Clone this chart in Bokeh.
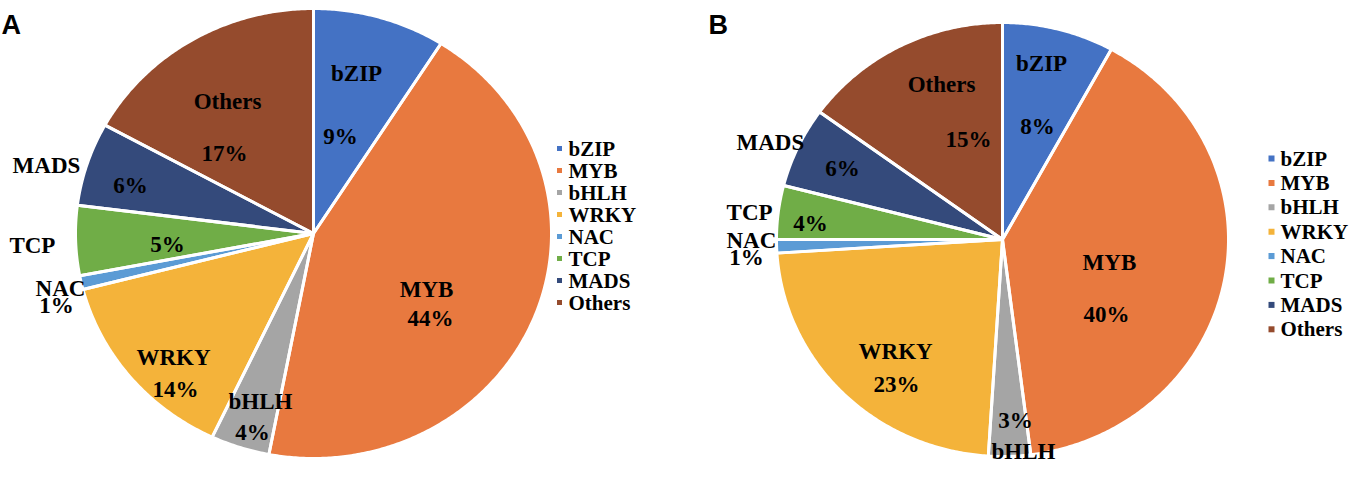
import math
from bokeh.plotting import figure
from bokeh.models import ColumnDataSource, Label
from bokeh.layouts import row
from bokeh.embed import file_html
from bokeh.resources import INLINE
from bokeh.core.properties import value

# ---------------- data ----------------
categories = ["bZIP", "MYB", "bHLH", "WRKY", "NAC", "TCP", "MADS", "Others"]
values_a = [9, 44, 4, 14, 1, 5, 6, 17]
values_b = [8, 40, 3, 23, 1, 4, 6, 15]

# ---------------- style ----------------
colors = ["#4472C4", "#E8793F", "#A5A5A5", "#F4B33A",
          "#5B9BD5", "#70AD47", "#344A7B", "#954B2D"]
SERIF = "Liberation Serif"
SANS = "Liberation Sans"

# label layout (in pie-radius units, relative to the pie centre)
name_pos_a = [(0.181, 0.711), (0.475, -0.249), (-0.223, -0.747), (-0.588, -0.551),
              (-1.063, -0.244), (-1.181, -0.053), (-1.122, 0.302), (-0.361, 0.587)]
pct_pos_a = [(0.113, 0.431), (0.492, -0.378), (-0.256, -0.884), (-0.580, -0.693),
             (-1.080, -0.320), (-0.613, -0.049), (-0.769, 0.213), (-0.374, 0.356)]
name_pos_b = [(0.173, 0.809), (0.473, -0.106), (0.093, -0.975), (-0.473, -0.516),
              (-1.111, -0.005), (-1.119, 0.124), (-1.027, 0.447), (-0.270, 0.714)]
pct_pos_b = [(0.155, 0.521), (0.460, -0.346), (0.058, -0.834), (-0.469, -0.668),
             (-1.133, -0.083), (-0.850, 0.074), (-0.708, 0.327), (-0.150, 0.461)]

H = 463
WA, WB = 683, 668


def wedge_polys(vals):
    total = float(sum(vals))
    xs, ys = [], []
    start = 0.0
    for v in vals:
        a0 = 2 * math.pi * start / total
        a1 = 2 * math.pi * (start + v) / total
        n = max(3, int(math.ceil(math.degrees(a1 - a0) * 2)) + 1)
        px, py = [0.0], [0.0]
        for k in range(n):
            t = a0 + (a1 - a0) * k / (n - 1)
            px.append(math.sin(t))
            py.append(math.cos(t))
        xs.append(px)
        ys.append(py)
        start += v
    return xs, ys


def make_pie(vals, name_pos, pct_pos, width, cx, cy, rx, ry, letter, letter_x,
             leg_marker_x, leg_text_x, leg_top, leg_step, leg_font, leg_size):
    xr = (-cx / rx, (width - cx) / rx)
    yr = (-(H - cy) / ry, cy / ry)
    p = figure(width=width, height=H, x_range=xr, y_range=yr,
               output_backend="svg", toolbar_location=None,
               x_axis_location=None, y_axis_location=None, min_border=0)
    p.grid.visible = False
    p.outline_line_color = None
    p.background_fill_color = "white"
    p.border_fill_color = "white"

    xs, ys = wedge_polys(vals)
    src = ColumnDataSource(dict(xs=xs, ys=ys, name=categories, color=colors))
    p.patches("xs", "ys", source=src, fill_color="color", line_color=None)
    p.patches("xs", "ys", source=src, fill_color=None, line_color="white",
              line_width=3, line_join="round")

    lab = ColumnDataSource(dict(
        nx=[q[0] for q in name_pos], ny=[q[1] for q in name_pos],
        px=[q[0] for q in pct_pos], py=[q[1] for q in pct_pos],
        name=categories, pct=["%d%%" % v for v in vals]))
    common = dict(source=lab, text_font=value(SERIF), text_font_style="bold",
                  text_font_size="23px", text_color="black",
                  text_align="center", text_baseline="middle")
    p.text(x="nx", y="ny", text="name", **common)
    p.text(x="px", y="py", text="pct", **common)

    # legend (square key + category name), placed by pixel layout
    n = len(categories)
    ly = [(cy - (leg_top + i * leg_step)) / ry for i in range(n)]
    leg = ColumnDataSource(dict(
        mx=[(leg_marker_x - cx) / rx] * n, tx=[(leg_text_x - cx) / rx] * n,
        y=ly, name=categories, color=colors))
    p.scatter(x="mx", y="y", source=leg, marker="square", size=leg_size,
              fill_color="color", line_color=None)
    p.text(x="tx", y="y", text="name", source=leg, text_font=value(SERIF),
           text_font_style="bold", text_font_size=leg_font, text_color="black",
           text_align="left", text_baseline="middle")

    p.add_layout(Label(x=letter_x, y=H - 24, x_units="screen", y_units="screen",
                       text=letter, text_font=SANS, text_font_style="bold",
                       text_font_size="27px", text_baseline="alphabetic",
                       text_color="black"))
    return p


pa = make_pie(values_a, name_pos_a, pct_pos_a, WA, 313, 233, 238, 225,
              "A", 1, 559, 568, 148, 22.0, "21px", 5)
pb = make_pie(values_b, name_pos_b, pct_pos_b, WB, 1002 - WA, 239, 226, 217,
              "B", 25, 1271 - WA, 1280 - WA, 158, 24.4, "21px", 6)

layout = row(pa, pb, spacing=0)
open("out.html", "w").write(file_html(layout, INLINE))
